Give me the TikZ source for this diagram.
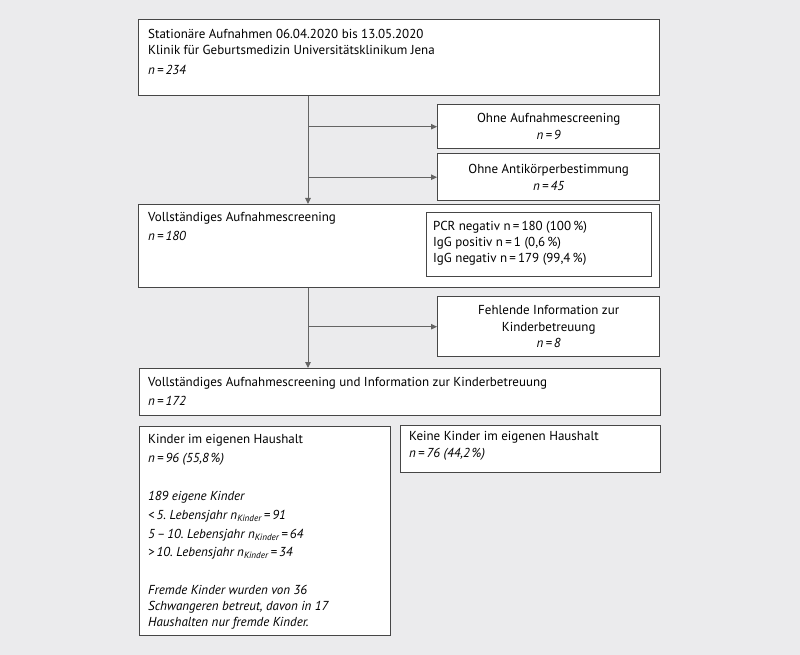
\documentclass[tikz,border=0pt]{standalone}
\usepackage{fontspec}
\setmainfont{PT Sans}
\usetikzlibrary{arrows.meta}
\frenchspacing

\definecolor{bggray}{RGB}{235,235,237}
\definecolor{boxline}{RGB}{70,70,70}
\definecolor{arrline}{RGB}{100,100,100}

\tikzset{
    box/.style={draw=boxline, line width=1.4pt, fill=white, rectangle, anchor=north west,
        inner sep=0pt, font=\fontsize{13}{16}\selectfont},
    txt/.style={anchor=north west, inner sep=0pt, align=left, font=\fontsize{13}{16}\selectfont},
    ctxt/.style={anchor=center, inner sep=0pt, align=center, font=\fontsize{13}{16.5}\selectfont},
    arr/.style={draw=arrline, line width=1pt, -{Triangle[length=6pt,width=5.5pt]}}
}

\begin{document}
\begin{tikzpicture}[x=1pt,y=-1pt]
    \fill[bggray] (0,0) rectangle (800,655);
    \useasboundingbox (0,0) rectangle (800,655);

    % boxes
    \node[box, minimum width=521pt, minimum height=76pt] (start) at (138,19) {};
    \node[txt] (starttxt) at (148,29) {Stationäre Aufnahmen 06.04.2020 bis 13.05.2020\\
        Klinik für Geburtsmedizin Universitätsklinikum Jena\\[4pt]
        \textit{n\,=\,234}};

    \node[box, minimum width=222pt, minimum height=44pt] (noscreen) at (437,104) {};
    \node[ctxt] at (noscreen.center) {Ohne Aufnahmescreening\\ \textit{n\,=\,9}};

    \node[box, minimum width=222pt, minimum height=47pt] (noantib) at (437,153) {};
    \node[ctxt] at (noantib.center) {Ohne Antikörperbestimmung\\ \textit{n\,=\,45}};

    \node[box, minimum width=521pt, minimum height=83pt] (screen) at (138,204) {};
    \node[txt] (screentxt) at (148,212) {Vollständiges Aufnahmescreening\\[3pt]
        \textit{n\,=\,180}};

    \node[box, minimum width=225pt, minimum height=64pt] (pcr) at (426,212) {};
    \node[txt] at (433,221) {PCR negativ n\,=\,180 (100\,\%)\\
        IgG positiv n\,=\,1 (0,6\,\%)\\
        IgG negativ n\,=\,179 (99,4\,\%)};

    \node[box, minimum width=222pt, minimum height=60pt] (noinfo) at (437,296) {};
    \node[ctxt] at (noinfo.center) {Fehlende Information zur\\ Kinderbetreuung\\ \textit{n\,=\,8}};

    \node[box, minimum width=521pt, minimum height=47pt] (complete) at (139,368) {};
    \node[txt] at (148,377) {Vollständiges Aufnahmescreening und Information zur Kinderbetreuung\\[3pt]
        \textit{n\,=\,172}};

    \node[box, minimum width=251pt, minimum height=209pt] (kids) at (139,426) {};
    \node[txt] at (148,434) {Kinder im eigenen Haushalt\\[3pt]
        \textit{n\,=\,96 (55,8\,\%)}\\[22pt]
        \textit{189 eigene Kinder}\\[3pt]
        \textit{<\,5. Lebensjahr n\textsubscript{Kinder}\,=\,91}\\[3pt]
        \textit{5\,--\,10. Lebensjahr n\textsubscript{Kinder}\,=\,64}\\[2pt]
        \textit{>\,10. Lebensjahr n\textsubscript{Kinder}\,=\,34}\\[22pt]
        \textit{Fremde Kinder wurden von 36}\\
        \textit{Schwangeren betreut, davon in 17}\\
        \textit{Haushalten nur fremde Kinder.}};

    \node[box, minimum width=260pt, minimum height=47pt] (nokids) at (400,425) {};
    \node[txt] at (409,431) {Keine Kinder im eigenen Haushalt\\[1pt]
        \textit{n\,=\,76 (44,2\,\%)}};

    % connectors
    \coordinate (trunk) at (308,0);
    \draw[arr] (start.south -| trunk) -- (screen.north -| trunk);
    \draw[arr] (noscreen.west -| trunk) -- (noscreen.west);
    \draw[arr] (noantib.west -| trunk) -- (noantib.west);
    \draw[arr] (screen.south -| trunk) -- (complete.north -| trunk);
    \draw[arr] (noinfo.west -| trunk) -- (noinfo.west);
\end{tikzpicture}
\end{document}
